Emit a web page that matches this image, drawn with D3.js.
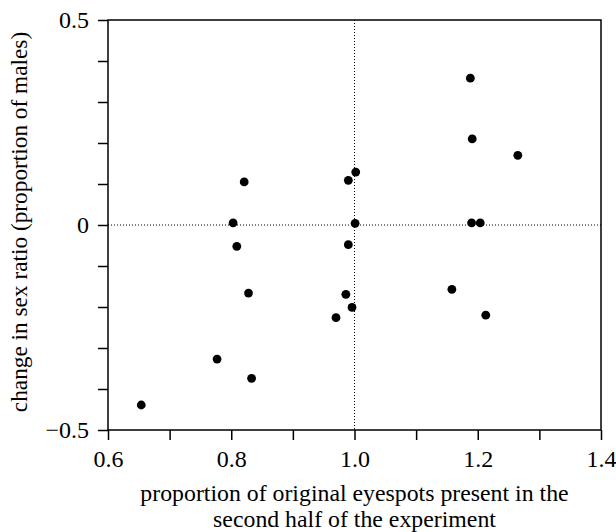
<!DOCTYPE html>
<html>
<head>
<meta charset="utf-8">
<script src="https://cdn.jsdelivr.net/npm/d3@7"></script>
<style>
  body { margin: 0; background: #fff; }
  text { font-family: "Liberation Serif", "Times New Roman", serif; fill: #000; }
</style>
</head>
<body>
<div id="chart"></div>
<script>
const eyespots = [0.654, 0.777, 0.833, 0.828, 0.821, 0.803, 0.809,
                  1.188, 1.191, 1.265, 1.002, 0.990, 1.001, 1.190, 1.204,
                  0.990, 0.986, 0.996, 0.970, 1.158, 1.213];
const sexRatioChange = [-0.439, -0.327, -0.374, -0.166, 0.105, 0.005, -0.052,
                        0.358, 0.210, 0.170, 0.129, 0.109, 0.004, 0.005, 0.005,
                        -0.048, -0.169, -0.201, -0.226, -0.157, -0.220];
const xTickLabels = [0.6, 0.8, 1.0, 1.2, 1.4];
const yTickLabels = [-0.5, 0, 0.5];

const MARGINS = {top: 20, right: 15, bottom: 102, left: 108};
const WIDTH = 616 - MARGINS.left - MARGINS.right;
const HEIGHT = 532 - MARGINS.top - MARGINS.bottom;

const svg = d3.select("#chart")
    .append("svg")
        .attr("width", 616)
        .attr("height", 532)
    .append("g")
        .attr("transform", `translate(${MARGINS.left}, ${MARGINS.top})`);

const x = d3.scaleLinear().domain([0.6, 1.4]).range([0, WIDTH]);
const y = d3.scaleLinear().domain([-0.5, 0.5]).range([HEIGHT, 0]);

// reference lines
svg.append("line")
    .attr("x1", 0).attr("x2", WIDTH)
    .attr("y1", y(0)).attr("y2", y(0))
    .attr("stroke", "#000").attr("stroke-width", 1)
    .attr("stroke-dasharray", "1,2");
svg.append("line")
    .attr("x1", x(1.0)).attr("x2", x(1.0))
    .attr("y1", 0).attr("y2", HEIGHT)
    .attr("stroke", "#000").attr("stroke-width", 1)
    .attr("stroke-dasharray", "1,2");

// frame
svg.append("rect")
    .attr("width", WIDTH).attr("height", HEIGHT)
    .attr("fill", "none").attr("stroke", "#000").attr("stroke-width", 1.5);

const xAxisCall = d3.axisBottom(x)
    .tickValues(d3.range(6, 15).map(d => d / 10))
    .tickSize(10)
    .tickFormat(d => xTickLabels.some(v => Math.abs(v - d) < 1e-9) ? d3.format(".1f")(d) : "");
const xAxis = svg.append("g")
    .attr("transform", `translate(0, ${HEIGHT})`)
    .call(xAxisCall);
xAxis.select(".domain").remove();
xAxis.selectAll("line").attr("stroke-width", 1.5);
xAxis.selectAll("text")
    .attr("font-size", 24)
    .attr("dy", 0)
    .attr("y", 37);

const yAxisCall = d3.axisLeft(y)
    .tickValues(d3.range(-5, 6).map(d => d / 10))
    .tickSize(10)
    .tickFormat(d => {
        const v = yTickLabels.find(t => Math.abs(t - d) < 1e-9);
        if (v === undefined) return "";
        return v === 0 ? "0" : d3.format(".1f")(v).replace("-", "\u2013");
    });
const yAxis = svg.append("g").call(yAxisCall);
yAxis.select(".domain").remove();
yAxis.selectAll("line").attr("stroke-width", 1.5);
yAxis.selectAll("text")
    .attr("font-size", 24)
    .attr("x", -19);

// axis titles
svg.append("text")
    .attr("x", WIDTH / 2)
    .attr("y", HEIGHT + 71)
    .attr("text-anchor", "middle")
    .attr("font-size", 23.8)
    .text("proportion of original eyespots present in the");
svg.append("text")
    .attr("x", WIDTH / 2)
    .attr("y", HEIGHT + 97)
    .attr("text-anchor", "middle")
    .attr("font-size", 23.8)
    .text("second half of the experiment");

svg.append("text")
    .attr("transform", "rotate(-90)")
    .attr("x", -(HEIGHT / 2) + 3)
    .attr("y", -81)
    .attr("text-anchor", "middle")
    .attr("font-size", 23.3)
    .text("change in sex ratio (proportion of males)");

// points
svg.selectAll("circle")
    .data(eyespots.map((d, i) => ({x: d, y: sexRatioChange[i]})))
    .enter().append("circle")
        .attr("cx", d => x(d.x))
        .attr("cy", d => y(d.y))
        .attr("r", 4.4)
        .attr("fill", "#000");
</script>
</body>
</html>
